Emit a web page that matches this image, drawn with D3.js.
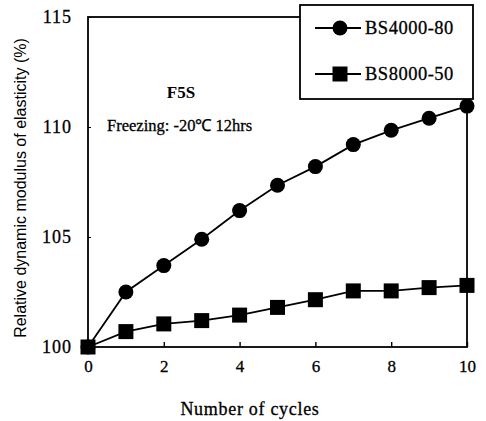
<!DOCTYPE html>
<html><head><meta charset="utf-8">
<script src="https://cdn.jsdelivr.net/npm/d3@7/dist/d3.min.js"></script>
<style>body{margin:0;background:#fff}svg{display:block}text{font-family:"Liberation Serif","Times New Roman",serif;fill:#000}
.ser{stroke:#000;stroke-width:0.3}
.sans{font-family:"Liberation Sans",Arial,sans-serif}</style>
</head><body>
<svg id="c" width="486" height="421"></svg>
<script>
const cycles = [0,1,2,3,4,5,6,7,8,9,10];
const bs4000 = [100,102.5,103.7,104.9,106.2,107.35,108.2,109.2,109.85,110.4,110.95];
const bs8000 = [100,100.7,101.05,101.2,101.45,101.8,102.15,102.55,102.55,102.7,102.8];
const xTicks = [0,2,4,6,8,10];
const yTicks = [100,105,110,115];
const seriesNames = ["BS4000-80","BS8000-50"];

const svg = d3.select("#c");
const L=88,R=467,T=17,B=347;
const x = d3.scaleLinear().domain([0,10]).range([L,R]);
const y = d3.scaleLinear().domain([100,115]).range([B,T]);

// frame
svg.append("rect").attr("x",L).attr("y",T).attr("width",R-L).attr("height",B-T)
  .attr("fill","none").attr("stroke","#000").attr("stroke-width",1.8);

// axes
const xa = svg.append("g").attr("transform",`translate(0,${B})`)
  .call(d3.axisBottom(x).tickValues(xTicks).tickSizeInner(-5).tickSizeOuter(0).tickPadding(25));
xa.select(".domain").remove();
xa.selectAll("line").attr("stroke-width",1.4);
xa.selectAll("text").attr("font-size",17).attr("dy","0").attr("class","ser");
const ya = svg.append("g").attr("transform",`translate(${L},0)`)
  .call(d3.axisLeft(y).tickValues(yTicks).tickSizeInner(-3).tickSizeOuter(0).tickPadding(16));
ya.select(".domain").remove();
ya.selectAll("line").attr("stroke-width",1);
ya.selectAll("text").attr("font-size",18).attr("letter-spacing",1).attr("class","ser");

// axis titles
svg.append("text").attr("x",250).attr("y",415).attr("text-anchor","middle").attr("font-size",18)
  .attr("letter-spacing",0.7).attr("class","ser").text("Number of cycles");
svg.append("text").attr("transform","translate(26,188) rotate(-90)").attr("text-anchor","middle")
  .attr("class","sans").attr("font-size",16)
  .text("Relative dynamic modulus of elasticity (%)");

// annotations
svg.append("text").attr("x",181).attr("y",98).attr("text-anchor","middle").attr("font-size",17)
  .attr("font-weight","bold").text("F5S");
svg.append("text").attr("x",107).attr("y",131).attr("font-size",16.5).attr("class","ser").text("Freezing: -20\u2103 12hrs");

const line = d3.line().x((d,i)=>x(cycles[i])).y(d=>y(d));
svg.append("path").datum(bs4000).attr("d",line).attr("fill","none").attr("stroke","#000").attr("stroke-width",1.8);
svg.append("path").datum(bs8000).attr("d",line).attr("fill","none").attr("stroke","#000").attr("stroke-width",1.8);
svg.selectAll("circle.m").data(bs4000).join("circle").attr("class","m")
  .attr("cx",(d,i)=>x(cycles[i])).attr("cy",d=>y(d)).attr("r",7.5).attr("fill","#000");
const s=15;
svg.selectAll("rect.m").data(bs8000).join("rect").attr("class","m")
  .attr("x",(d,i)=>x(cycles[i])-s/2).attr("y",d=>y(d)-s/2).attr("width",s).attr("height",s).attr("fill","#000");

// legend
const lg = svg.append("g");
lg.append("rect").attr("x",300).attr("y",5).attr("width",173).attr("height",94)
  .attr("fill","#fff").attr("stroke","#000").attr("stroke-width",1.8);
[28,74].forEach((ly,k)=>{
  lg.append("line").attr("x1",315).attr("x2",361).attr("y1",ly).attr("y2",ly).attr("stroke","#000").attr("stroke-width",1.8);
  if(k===0) lg.append("circle").attr("cx",340).attr("cy",ly).attr("r",7.5).attr("fill","#000");
  else lg.append("rect").attr("x",340-s/2).attr("y",ly-s/2).attr("width",s).attr("height",s).attr("fill","#000");
  lg.append("text").attr("x",365).attr("y",ly).attr("dy","0.35em").attr("font-size",18.5)
    .attr("letter-spacing",0.5).attr("class","ser").text(seriesNames[k]);
});
</script>
</body></html>
